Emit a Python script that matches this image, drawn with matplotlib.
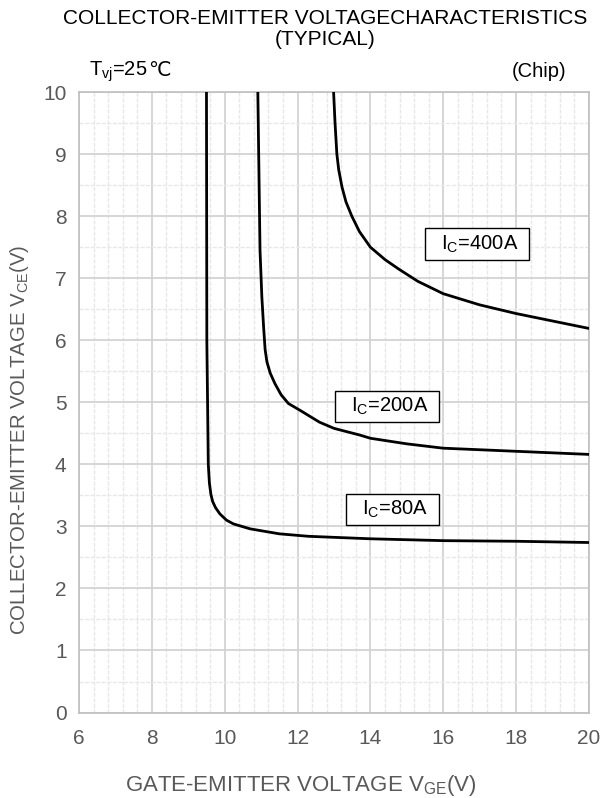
import numpy as np
import matplotlib
matplotlib.use('Agg')
import matplotlib.pyplot as plt
from matplotlib.ticker import MultipleLocator

plt.rcParams['font.family'] = ['Liberation Sans', 'DejaVu Sans']
plt.rcParams['mathtext.fontset'] = 'custom'
plt.rcParams['mathtext.rm'] = 'Liberation Sans'
plt.rcParams['mathtext.it'] = 'Liberation Sans'

# curves (VGE in V, VCE in V)
vge_80 = [9.50, 9.51, 9.53, 9.55, 9.58, 9.62, 9.67, 9.75, 9.87, 10.05, 10.24, 10.7, 11.5, 12.3, 14, 16, 18, 20]
vce_80 = [10, 6, 5.0, 4.0, 3.7, 3.52, 3.4, 3.3, 3.2, 3.1, 3.04, 2.96, 2.88, 2.84, 2.8, 2.77, 2.76, 2.74]

vge_200 = [10.91, 10.97, 11.02, 11.07, 11.11, 11.16, 11.25, 11.38, 11.55, 11.75, 12.07, 12.6, 13.0, 13.72, 14.0, 15, 16, 18, 20]
vce_200 = [10, 7.45, 6.7, 6.2, 5.85, 5.65, 5.47, 5.3, 5.12, 4.98, 4.87, 4.68, 4.58, 4.47, 4.42, 4.33, 4.26, 4.21, 4.16]

vge_400 = [12.99, 13.03, 13.08, 13.13, 13.22, 13.33, 13.49, 13.7, 14.0, 14.4, 14.77, 15.3, 16.0, 17, 18, 19, 20]
vce_400 = [10, 9.5, 9.0, 8.75, 8.47, 8.23, 8.0, 7.75, 7.5, 7.3, 7.15, 6.95, 6.75, 6.57, 6.43, 6.31, 6.19]

labels = [r'  I$_\mathregular{C}$=80A  ', r'  I$_\mathregular{C}$=200A  ', r'  I$_\mathregular{C}$=400A  ']
label_pos = [(14.6, 3.27), (14.46, 4.93), (16.93, 7.55)]

fig = plt.figure(figsize=(6.04, 7.98), dpi=100)
ax = fig.add_axes([0.1308, 0.1071, 0.8442, 0.7776])

for x, y in [(vge_80, vce_80), (vge_200, vce_200), (vge_400, vce_400)]:
    ax.plot(x, y, color='black', lw=2.0, solid_joinstyle='round', zorder=3)

for t, (x, y) in zip(labels, label_pos):
    ax.text(x, y, t, ha='center', va='center', fontsize=14.5, zorder=4,
            bbox=dict(boxstyle='square,pad=0.25', fc='white', ec='black', lw=1.0))

ax.set_xlim(6, 20)
ax.set_ylim(0, 10)
ax.xaxis.set_major_locator(MultipleLocator(2))
ax.xaxis.set_minor_locator(MultipleLocator(0.4))
ax.yaxis.set_major_locator(MultipleLocator(1))
ax.yaxis.set_minor_locator(MultipleLocator(0.5))
ax.grid(which='major', color='#d0d0d0', lw=1.2, zorder=1)
ax.grid(which='minor', color='#e8e8e8', lw=1.0, ls=(0, (3, 1)), zorder=1)
ax.set_axisbelow(True)
ax.tick_params(which='both', length=0, labelsize=15, labelcolor='#595959')
ax.tick_params(axis='x', pad=12)
ax.tick_params(axis='y', pad=9)
for s in ax.spines.values():
    s.set_color('#bfbfbf')
    s.set_linewidth(1.2)

ax.set_xlabel(r'GATE-EMITTER VOLTAGE V$_\mathregular{GE}$(V)', fontsize=16, color='#595959')
ax.xaxis.set_label_coords(0.435, -0.097)
ax.set_ylabel(r'COLLECTOR-EMITTER VOLTAGE V$_\mathregular{CE}$(V)', fontsize=14.7, color='#595959')
ax.yaxis.set_label_coords(-0.095, 0.44)

fig.text(0.538, 0.977, 'COLLECTOR-EMITTER VOLTAGECHARACTERISTICS', ha='center', va='center', fontsize=15)
fig.text(0.538, 0.950, '(TYPICAL)', ha='center', va='center', fontsize=15)
t = fig.text(0.148, 0.905, r'T$_\mathregular{vj}$=25', ha='left', va='baseline', fontsize=14.5)
ax.annotate('℃', xy=(1, 0.905), xycoords=(t, 'figure fraction'), ha='left', va='baseline',
            fontsize=14.5, family=['DejaVu Sans'], annotation_clip=False)
fig.text(0.937, 0.903, '(Chip)', ha='right', va='baseline', fontsize=14.5)

fig.savefig('out.png', dpi=100)
